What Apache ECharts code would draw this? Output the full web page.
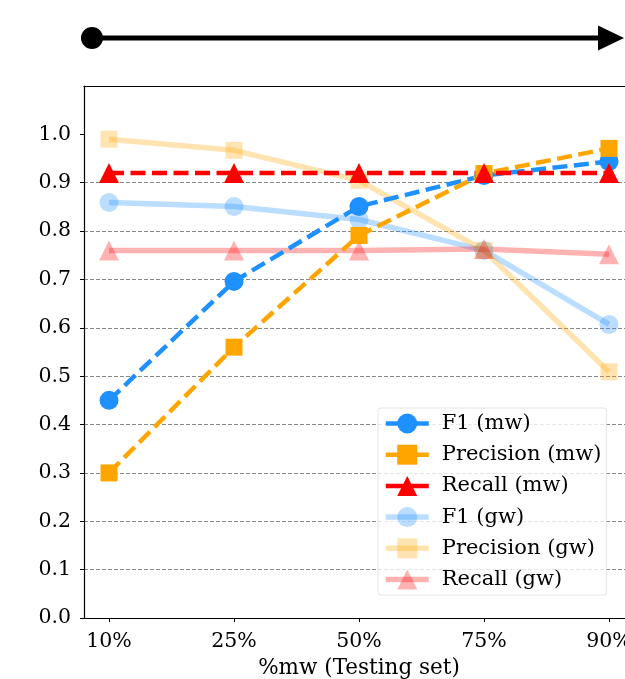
<!DOCTYPE html>
<html lang="en">
<head>
<meta charset="UTF-8">
<title>F1 / Precision / Recall</title>
<script src="https://cdn.jsdelivr.net/npm/echarts@6/dist/echarts.min.js"></script>
<style>
    html,body{ padding:0; margin:0; background:#fff; }
</style>
</head>
<body>
<div id="chart" style="width:625px;height:679px;"></div>
<script type="text/javascript">
    // x categories (test split share of mw) and y tick values
    var categories = ['10%', '25%', '50%', '75%', '90%'];
    var yTicks = [0, 0.1, 0.2, 0.3, 0.4, 0.5, 0.6, 0.7, 0.8, 0.9, 1.0];

    // mw results
    var f1Mw        = [0.450, 0.696, 0.851, 0.915, 0.944];
    var precisionMw = [0.300, 0.560, 0.791, 0.919, 0.971];
    var recallMw    = [0.920, 0.920, 0.920, 0.920, 0.920];
    // gw results
    var f1Gw        = [0.859, 0.851, 0.824, 0.760, 0.607];
    var precisionGw = [0.990, 0.967, 0.905, 0.760, 0.509];
    var recallGw    = [0.760, 0.760, 0.760, 0.763, 0.752];

    var font = 'DejaVu Serif';
    var BLUE = '#1e90ff', ORANGE = '#ffa500', RED = '#ff0000';
    var tickIdx = categories.map(function(c, i){ return i; });

    function pts(arr){
        return arr.map(function(v, i){ return [i, v]; });
    }

    function mwSeries(name, arr, color, symbol, size){
        return {
            name: name, type: 'line', data: pts(arr),
            symbol: symbol, symbolSize: size,
            lineStyle: { color: color, width: 4.5, type: [15, 6.5] },
            itemStyle: { color: color },
            z: 3
        };
    }
    function gwSeries(name, arr, color, symbol, size){
        return {
            name: name, type: 'line', data: pts(arr),
            symbol: symbol, symbolSize: size,
            lineStyle: { color: color, width: 5.5, opacity: 0.3 },
            itemStyle: { color: color, opacity: 0.3 },
            z: 2
        };
    }
    function legendItem(name, width){
        return { name: name, lineStyle: { width: width, type: 'solid' } };
    }

    var myChart = echarts.init(document.getElementById('chart'));
    var option = {
        animation: false,
        // plot runs past the right edge of the picture (spine is cut off)
        grid: { left: 84, right: -9, top: 86, bottom: 61, outerBoundsMode: 'none' },
        graphic: [
            { type: 'line', shape: { x1: 92, y1: 38, x2: 604, y2: 38 },
              style: { stroke: '#000', lineWidth: 5 } },
            { type: 'circle', shape: { cx: 92, cy: 38, r: 11 },
              style: { fill: '#000' } },
            { type: 'polygon', shape: { points: [[598, 25.5], [624, 38], [598, 50.5]] },
              style: { fill: '#000' } }
        ],
        xAxis: [{
            type: 'value', min: -0.2, max: 4.2,
            name: '%mw (Testing set)', nameLocation: 'middle', nameGap: 39,
            nameTextStyle: { fontFamily: font, fontSize: 21.5, color: '#000' },
            axisLine: { lineStyle: { color: '#000', width: 1.2 } },
            axisTick: { length: 4, customValues: tickIdx, lineStyle: { color: '#000' } },
            axisLabel: {
                customValues: tickIdx, margin: 13,
                fontFamily: font, fontSize: 20.5, color: '#000',
                formatter: function(v){ return categories[Math.round(v)]; }
            },
            splitLine: { show: false }
        }, {
            // top spine only
            type: 'value', position: 'top', min: -0.2, max: 4.2,
            axisLine: { show: true, lineStyle: { color: '#000', width: 1.2 } },
            axisTick: { show: false }, axisLabel: { show: false }, splitLine: { show: false }
        }],
        yAxis: {
            type: 'value', min: 0, max: 1.1, interval: 0.1,
            axisLine: { show: true, onZero: false, lineStyle: { color: '#000', width: 1.2 } },
            axisTick: { show: true, length: 4, customValues: yTicks, lineStyle: { color: '#000' } },
            axisLabel: {
                customValues: yTicks, margin: 13,
                fontFamily: font, fontSize: 20.5, color: '#000',
                formatter: function(v){ return v.toFixed(1); }
            },
            splitLine: {
                show: true, showMaxLine: false,
                lineStyle: { color: '#888', width: 1, type: [4, 2] }
            }
        },
        legend: {
            orient: 'vertical', left: 378, top: 408,
            itemWidth: 43, itemHeight: 25, itemGap: 10.2,
            padding: [5, 5, 5, 5],
            backgroundColor: 'rgba(255,255,255,0.8)',
            borderColor: 'rgba(204,204,204,0.5)', borderWidth: 1, borderRadius: 3,
            textStyle: { fontFamily: font, fontSize: 21, color: '#000', padding: [0, 0, 0, 8] },
            data: [
                legendItem('F1 (mw)', 4.5), legendItem('Precision (mw)', 4.5), legendItem('Recall (mw)', 4.5),
                legendItem('F1 (gw)', 5.5), legendItem('Precision (gw)', 5.5), legendItem('Recall (gw)', 5.5)
            ]
        },
        series: [
            gwSeries('F1 (gw)', f1Gw, BLUE, 'circle', 19),
            gwSeries('Precision (gw)', precisionGw, ORANGE, 'rect', 17),
            gwSeries('Recall (gw)', recallGw, RED, 'triangle', 20),
            mwSeries('F1 (mw)', f1Mw, BLUE, 'circle', 19),
            mwSeries('Precision (mw)', precisionMw, ORANGE, 'rect', 17),
            mwSeries('Recall (mw)', recallMw, RED, 'triangle', 20)
        ]
    };
    myChart.setOption(option);
</script>
</body>
</html>
